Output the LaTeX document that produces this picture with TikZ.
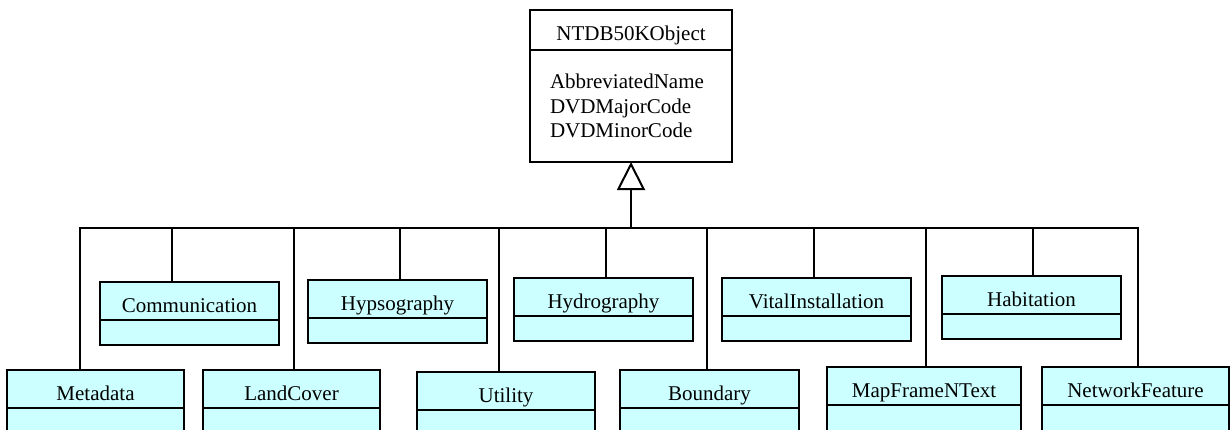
\documentclass[tikz,border=0pt]{standalone}
\usepackage{fontspec}
\setmainfont{Liberation Serif}
\usetikzlibrary{positioning,arrows.meta}
\definecolor{clsfill}{HTML}{CCFFFF}

\begin{document}
\begin{tikzpicture}[x=1pt,y=-1pt]
  \tikzset{ hd/.style={draw,fill=clsfill,line width=2pt,outer sep=0pt,inner sep=0pt,anchor=north west,
              text height=30pt,text depth=8pt,font=\fontsize{21}{24.5}\selectfont},
            bd/.style={draw,fill=clsfill,line width=2pt,outer sep=0pt,inner sep=0pt,
              font=\fontsize{21}{24.5}\selectfont},
            ln/.style={line width=2pt},
  }
  \useasboundingbox (0,0) rectangle (1230,429);
  \clip (0,0) rectangle (1230,429);

  % the base class
  \node[hd, fill=white, minimum width=202pt, text depth=10pt] (ntdb) at (530,10) {NTDB50KObject};
  \node[bd, fill=white, minimum width=202pt, minimum height=112pt, text width=162pt, align=left,
        below=0pt of ntdb] (ntdbB) {AbbreviatedName\\DVDMajorCode\\DVDMinorCode};

  % upper row of subclasses
  \node[hd, minimum width=179pt] (comm) at (100,282) {Communication};
  \node[bd, minimum width=179pt, minimum height=25pt, below=0pt of comm] (commB) {};
  \node[hd, minimum width=179pt] (hyps) at (308,280) {Hypsography};
  \node[bd, minimum width=179pt, minimum height=25pt, below=0pt of hyps] (hypsB) {};
  \node[hd, minimum width=179pt] (hydro) at (514,278) {Hydrography};
  \node[bd, minimum width=179pt, minimum height=25pt, below=0pt of hydro] (hydroB) {};
  \node[hd, minimum width=189pt] (vital) at (722,278) {VitalInstallation};
  \node[bd, minimum width=189pt, minimum height=25pt, below=0pt of vital] (vitalB) {};
  \node[hd, minimum width=179pt] (habit) at (942,276) {Habitation};
  \node[bd, minimum width=179pt, minimum height=25pt, below=0pt of habit] (habitB) {};

  % lower row of subclasses
  \node[hd, minimum width=177pt] (meta) at (7,370) {Metadata};
  \node[bd, minimum width=177pt, minimum height=40pt, below=0pt of meta] (metaB) {};
  \node[hd, minimum width=177pt] (land) at (203,370) {LandCover};
  \node[bd, minimum width=177pt, minimum height=40pt, below=0pt of land] (landB) {};
  \node[hd, minimum width=178pt] (util) at (417,372) {Utility};
  \node[bd, minimum width=178pt, minimum height=40pt, below=0pt of util] (utilB) {};
  \node[hd, minimum width=179pt] (bound) at (620,370) {Boundary};
  \node[bd, minimum width=179pt, minimum height=40pt, below=0pt of bound] (boundB) {};
  \node[hd, minimum width=194pt] (mapf) at (827,367) {MapFrameNText};
  \node[bd, minimum width=194pt, minimum height=40pt, below=0pt of mapf] (mapfB) {};
  \node[hd, minimum width=187pt] (netw) at (1042,367) {NetworkFeature};
  \node[bd, minimum width=187pt, minimum height=40pt, below=0pt of netw] (netwB) {};

  % the common bus and the drops to each subclass
  \coordinate (busL) at (80,228);
  \coordinate (busR) at (1138,228);
  \draw[ln] (meta.north -| busL) -- (busL) -- (busR) -- (netw.north -| busR);
  \draw[ln] (busL -| 172,0) -- (comm.north -| 172,0);
  \draw[ln] (busL -| 294,0) -- (land.north -| 294,0);
  \draw[ln] (busL -| 400,0) -- (hyps.north -| 400,0);
  \draw[ln] (busL -| 499,0) -- (util.north -| 499,0);
  \draw[ln] (busL -| 606,0) -- (hydro.north -| 606,0);
  \draw[ln] (busL -| 707,0) -- (bound.north -| 707,0);
  \draw[ln] (busL -| 814,0) -- (vital.north -| 814,0);
  \draw[ln] (busL -| 926,0) -- (mapf.north -| 926,0);
  \draw[ln] (busL -| 1033,0) -- (habit.north -| 1033,0);

  % generalisation arrow up to the base class
  \draw[ln, -{Triangle[open,length=28pt,width=28pt]}] (ntdbB.south |- busL) -- (ntdbB.south);
\end{tikzpicture}
\end{document}
